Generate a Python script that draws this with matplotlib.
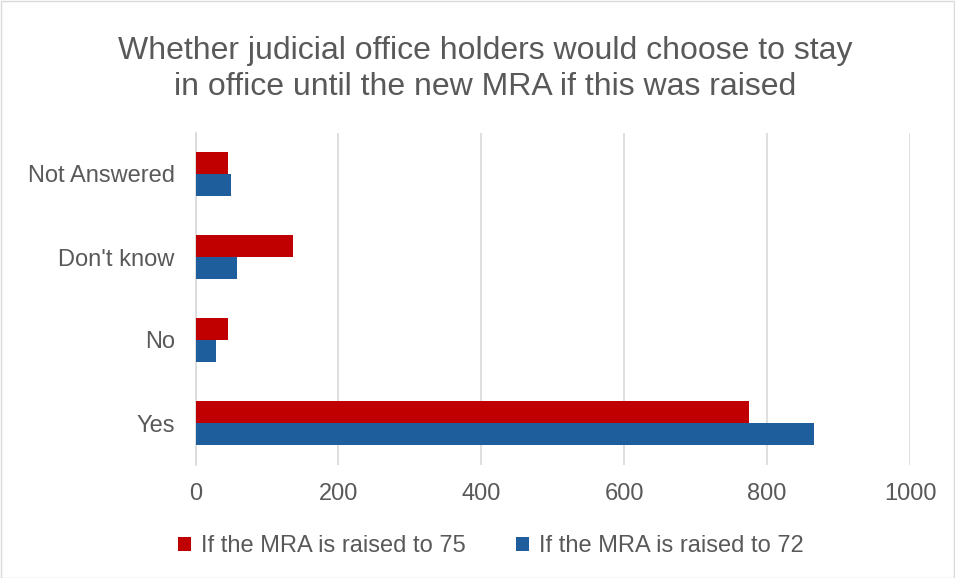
import matplotlib.pyplot as plt
import numpy as np
from matplotlib.patches import Rectangle

plt.rcParams['font.family'] = ['Liberation Sans', 'DejaVu Sans']

categories = ['Yes', 'No', "Don't know", 'Not Answered']
raised_75 = [774, 45, 136, 46]
raised_72 = [865, 28, 58, 50]
series_labels = ['If the MRA is raised to 75', 'If the MRA is raised to 72']
x_ticks = [0, 200, 400, 600, 800, 1000]

RED = '#C00000'
BLUE = '#1F5E9C'
TEXT = '#595959'
GRID = '#D9D9D9'

fig = plt.figure(figsize=(9.55, 5.78), dpi=100)
W, H = 955, 578
ax = fig.add_axes([195.5 / W, 1 - 464.5 / H, (910 - 195.5) / W, (464.5 - 132.5) / H])

y = np.arange(len(categories))
h = 0.265
ax.barh(y + h / 2, raised_75, height=h, color=RED, label=series_labels[0], zorder=3)
ax.barh(y - h / 2, raised_72, height=h, color=BLUE, label=series_labels[1], zorder=3)

ax.set_xlim(0, 1000)
ax.set_ylim(-0.5, len(categories) - 0.5)
ax.set_xticks(x_ticks)
ax.set_yticks(y)
ax.set_yticklabels(categories)
ax.tick_params(axis='both', length=0, labelsize=17, colors=TEXT)
ax.tick_params(axis='x', pad=13)
ax.tick_params(axis='y', pad=15)
ax.grid(axis='x', color=GRID, linewidth=1.2, zorder=0)
for s in ['top', 'right', 'bottom']:
    ax.spines[s].set_visible(False)
ax.spines['left'].set_color(GRID)
ax.spines['left'].set_linewidth(1.2)

fig.text(485 / W, 1 - 69 / H,
         'Whether judicial office holders would choose to stay\nin office until the new MRA if this was raised',
         ha='center', va='center', fontsize=23, color=TEXT, linespacing=1.25)

fig.legend(loc='center', bbox_to_anchor=(491 / W, 1 - 546 / H), ncol=2, frameon=False,
           fontsize=17, labelcolor=TEXT, handlelength=0.55, handleheight=0.55,
           handletextpad=0.45, columnspacing=2.1)

fig.add_artist(Rectangle((0.5 / W, 0.5 / H), 1 - 1.5 / W, 1 - 1.5 / H,
                         transform=fig.transFigure, fill=False, edgecolor=GRID, linewidth=1))

fig.savefig('out.png', dpi=100)
